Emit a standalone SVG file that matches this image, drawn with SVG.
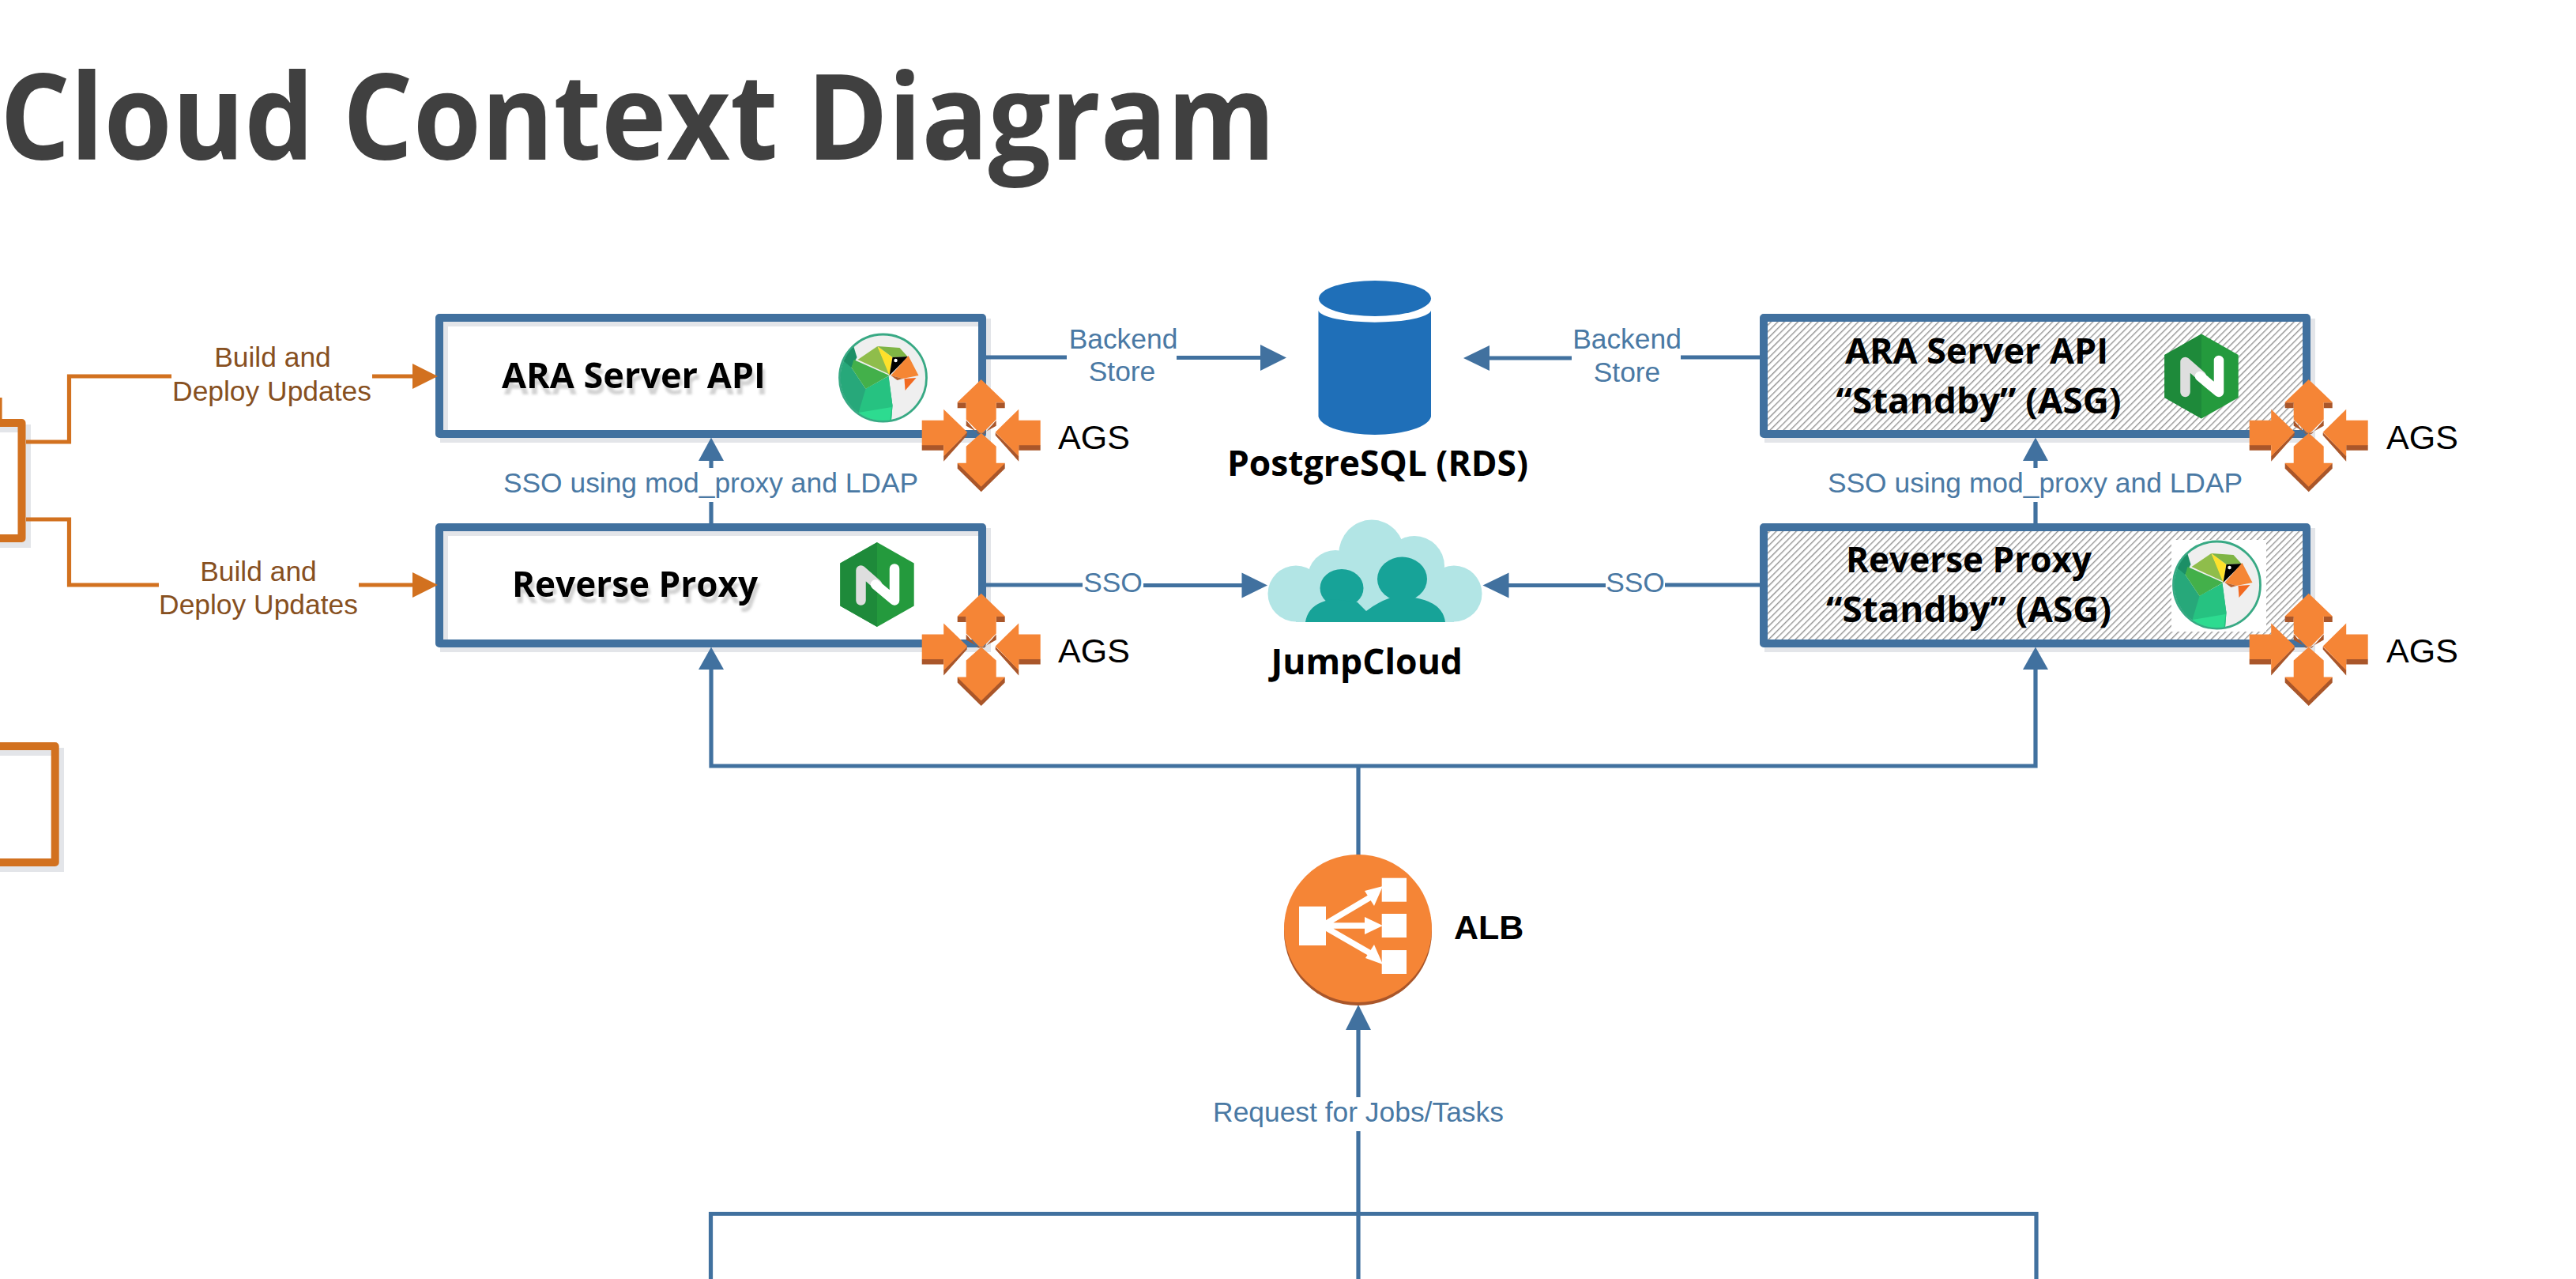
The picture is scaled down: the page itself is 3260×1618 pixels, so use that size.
<svg xmlns="http://www.w3.org/2000/svg" xmlns:xlink="http://www.w3.org/1999/xlink" width="3260" height="1618" viewBox="0 0 3260 1618">
<style>
.box{fill:#fff}
.boxS{fill:none;stroke:#e3e5e9;stroke-width:10}
.boxB{fill:none;stroke:#41719f;stroke-width:10;stroke-linejoin:round}
.boxO{fill:none;stroke:#d2711f;stroke-width:10;stroke-linejoin:round}
.cb{fill:none;stroke:#41719f;stroke-width:5.200}
.co{fill:none;stroke:#d2711f;stroke-width:5.200}
.ab{fill:#41719f}
.ao{fill:#d2711f}
text{font-family:"Liberation Sans",Arial,sans-serif}
.lb{font-size:35.4px;fill:#4a79a4;text-anchor:middle}
.lo{font-size:35.4px;fill:#87501f;text-anchor:middle}
.ags{font-size:43px;fill:#000}
.h{font-family:"Open Sans","Liberation Sans",sans-serif;font-weight:700;font-size:44px;fill:#000}
.sh{filter:url(#ts)}
.f{fill:#f58536}
.d{fill:#a9562a}
</style>
<defs>
<pattern id="hatch" width="6" height="6" patternUnits="userSpaceOnUse" patternTransform="rotate(45)">
<rect width="6" height="6" fill="#fff"/>
<rect width="1.400" height="6" fill="#949494"/>
</pattern>
<filter id="ts" x="-5%" y="-20%" width="110%" height="160%">
<feDropShadow dx="3" dy="8" stdDeviation="1.500" flood-color="#808080" flood-opacity="0.35"/>
</filter>
<clipPath id="disc"><circle cx="0" cy="0" r="54"/></clipPath>
<g id="parrot">
<circle cx="0" cy="0" r="55" fill="#efefef" stroke="#38a984" stroke-width="2.800"/>
<g clip-path="url(#disc)">
<path d="M-37,-39L-70,-20V60H10L12,35L7,-2L-22,14L-40,-13Z" fill="#27a87a"/>
<path d="M-37,-39L-60,-30L-40,-13L-33,-26Z" fill="#1c8f66"/>
<path d="M-37,-23L8,-3L-22,14L-40,-13Z" fill="#43b04a"/>
<path d="M-7,-40L9,-4L-32,-23Z" fill="#8fbd4b"/>
<path d="M-7,-40L12,-26L8,-3Z" fill="#ffe12b"/>
<path d="M-7,-40L21,-38L31,-27L12,-26Z" fill="#7fb545"/>
<path d="M12,-26L32,-27L8,-3Z" fill="#000"/>
<circle cx="16" cy="-22" r="2.200" fill="#fff"/>
<path d="M32,-28L45,-3L25,1L10,-3Z" fill="#f58634"/>
<path d="M10,-3L25,1L18,3Z" fill="#b9622e"/>
<path d="M27,1L42,0L28,16Z" fill="#f26a21"/>
<path d="M7,-2L12,35L10,60L-31,44L-22,14Z" fill="#26c281"/>
<path d="M-31,44L11,37L8,60H-20Z" fill="#2ddb90"/>
</g>
</g>
<g id="nginx">
<path d="M0,-53.500L46.700,-27V27L0,53.500L-46.700,27V-27Z" fill="#249a3d"/>
<path d="M0,-53.500L-46.700,-27V27L0,53.500Z" fill="#1e8a3a"/>
<path d="M-20.500,20V-18L0,0" fill="none" stroke="#dedede" stroke-width="12.500" stroke-linecap="round" stroke-linejoin="round"/>
<path d="M-2,0L22,20V-20" fill="none" stroke="#fff" stroke-width="12.500" stroke-linecap="round" stroke-linejoin="round"/>
</g>
<g id="ags">
<path class="d" d="M-30,-38.500H-19V-31.500H-30ZM19,-38.500H30V-31.500H19Z"/>
<path class="d" d="M-19,-16L-4,1H-1L-19,-9ZM19,-16L4,1H1L19,-9Z"/>
<path class="f" d="M0,-67.700L30,-39V-38.500H19V-17L2,0H-2L-19,-17V-38.500H-30V-39Z"/>
<path class="d" d="M-30,38.500V45L0,74.500L30,45V38.500Z"/>
<path class="f" d="M0,0L19,17V38H30V38.500L0,68L-30,38.500V38H-19V17Z"/>
<path class="d" d="M-75,15.300H-47.500V22H-75ZM75,15.300H47.500V22H75Z"/>
<path class="d" d="M-47.500,29L-18,-0.500L-18,3L-47.500,36ZM47.500,29L18,-0.500L18,3L47.500,36Z"/>
<path class="f" d="M-75,-16H-47.500V-30L-17.500,-1L-47.500,29.500V15.500H-75Z"/>
<path class="f" d="M75,-16H47.500V-30L18,-1L47.500,29.500V15.500H75Z"/>
</g>
</defs>
<rect width="3260" height="1618" fill="#fff"/>

<text id="title" x="0" y="202" style="font-family:'Open Sans','Liberation Sans',sans-serif;font-weight:700;font-size:150px;fill:#404040" textLength="1614" lengthAdjust="spacingAndGlyphs">Cloud Context Diagram</text>

<g id="builder-top">
<rect class="box" x="-30" y="535" width="57.500" height="146"/>
<rect class="boxS" x="-23" y="542" width="57" height="146"/>
<rect class="boxO" x="-30" y="535" width="57.500" height="146"/>
<path class="co" d="M0,503V530"/>
</g>
<g id="builder-bottom">
<rect class="box" x="-50" y="944" width="119.700" height="147"/>
<rect class="boxS" x="-43" y="951" width="119" height="147"/>
<rect class="boxO" x="-50" y="944" width="119.700" height="147"/>
</g>

<g id="ara-server-api">
<rect class="box" x="556" y="402" width="687" height="147"/>
<rect class="boxS" x="562" y="408" width="687" height="147"/>
<rect class="boxB" x="556" y="402" width="687" height="147"/>
<text class="h sh" x="635" y="491" textLength="334" lengthAdjust="spacingAndGlyphs">ARA Server API</text>
<use xlink:href="#parrot" href="#parrot" x="1117.500" y="478"/>
</g>
<g id="reverse-proxy">
<rect class="box" x="556" y="667" width="687" height="147"/>
<rect class="boxS" x="562" y="673" width="687" height="147"/>
<rect class="boxB" x="556" y="667" width="687" height="147"/>
<text class="h sh" x="648" y="755" textLength="311" lengthAdjust="spacingAndGlyphs">Reverse Proxy</text>
<use xlink:href="#nginx" href="#nginx" x="1110" y="739.500"/>
</g>
<g id="ara-standby">
<rect class="boxS" x="2238" y="408" width="687" height="147"/>
<rect fill="url(#hatch)" x="2232" y="402" width="687" height="147"/>
<rect class="boxB" x="2232" y="402" width="687" height="147"/>
<text class="h" x="2335" y="459.500" textLength="333" lengthAdjust="spacingAndGlyphs">ARA Server API</text>
<text class="h" x="2323.500" y="522.500" textLength="361" lengthAdjust="spacingAndGlyphs">“Standby” (ASG)</text>
<use xlink:href="#nginx" href="#nginx" x="2786" y="476"/>
</g>
<g id="proxy-standby">
<rect class="boxS" x="2238" y="673" width="687" height="147"/>
<rect fill="url(#hatch)" x="2232" y="667" width="687" height="147"/>
<rect class="boxB" x="2232" y="667" width="687" height="147"/>
<text class="h" x="2336" y="723.500" textLength="311" lengthAdjust="spacingAndGlyphs">Reverse Proxy</text>
<text class="h" x="2311" y="786.500" textLength="361" lengthAdjust="spacingAndGlyphs">“Standby” (ASG)</text>
<rect x="2748" y="683" width="120" height="116" fill="#fff"/>
<use xlink:href="#parrot" href="#parrot" x="2805.500" y="740"/>
</g>

<g id="connectors">
<path class="co" d="M33,559H87.500V476H217"/>
<path class="co" d="M471,476H524"/>
<path class="ao" d="M522,460L554,476L522,492Z"/>
<path class="co" d="M33,657H87.500V740H201"/>
<path class="co" d="M454,740H524"/>
<path class="ao" d="M522,724L554,740L522,756Z"/>
<path class="cb" d="M1246,452H1350M1489,452.500H1597"/>
<path class="ab" d="M1595,436L1628,452.500L1595,469Z"/>
<path class="cb" d="M2230,452H2127M1989,453H1883"/>
<path class="ab" d="M1885,437L1852,453L1885,469Z"/>
<path class="cb" d="M1246,740H1370M1447,740.500H1574"/>
<path class="ab" d="M1571.500,724.500L1604,740.500L1571.500,756.500Z"/>
<path class="cb" d="M2230,740H2107M2032,740.500H1907"/>
<path class="ab" d="M1909.500,724.500L1876.500,740.500L1909.500,756.500Z"/>
<path class="cb" d="M900,664V635M900,592V580"/>
<path class="ab" d="M884,583L900,553.500L916,583Z"/>
<path class="cb" d="M2576,664V635M2576,592V580"/>
<path class="ab" d="M2560,583L2576,553.500L2592,583Z"/>
<path class="cb" d="M900,845V969H2576V845"/>
<path class="ab" d="M884,847L900,818.500L916,847Z"/>
<path class="ab" d="M2560,847L2576,818.500L2592,847Z"/>
<path class="cb" d="M1719,969V1084"/>
<path class="cb" d="M1719,1300V1388M1719,1431V1618"/>
<path class="ab" d="M1703,1303L1719,1271L1735,1303Z"/>
<path class="cb" d="M899.500,1618V1535.500H2577V1618"/>
</g>

<g id="ags-1"><use xlink:href="#ags" href="#ags" x="1241.700" y="547.700"/><text class="ags" x="1339" y="567.500">AGS</text></g>
<g id="ags-2"><use xlink:href="#ags" href="#ags" x="1241.700" y="818.400"/><text class="ags" x="1339" y="838">AGS</text></g>
<g id="ags-3"><use xlink:href="#ags" href="#ags" x="2921.700" y="547.700"/><text class="ags" x="3020" y="567.500">AGS</text></g>
<g id="ags-4"><use xlink:href="#ags" href="#ags" x="2921.700" y="818.400"/><text class="ags" x="3020" y="838">AGS</text></g>

<g id="postgresql">
<ellipse cx="1740" cy="377.500" rx="71" ry="22.500" fill="#1f6fb8"/>
<path d="M1668.500,393A71.500,16 0 0 0 1811,393V527A71.500,25 0 0 1 1668.500,527Z" fill="#1f6fb8"/>
<text class="h" x="1553" y="602" textLength="381" lengthAdjust="spacingAndGlyphs">PostgreSQL (RDS)</text>
</g>
<g id="jumpcloud">
<g fill="#b2e5e5">
<circle cx="1640" cy="751" r="35.500"/><circle cx="1840" cy="751" r="35.500"/>
<circle cx="1690" cy="731" r="35"/><circle cx="1790" cy="716" r="38"/>
<ellipse cx="1736" cy="702" rx="42" ry="44.500"/>
<rect x="1640" y="720" width="200" height="67"/>
</g>
<g fill="#17a398">
<ellipse cx="1774.500" cy="732.500" rx="31.500" ry="28"/>
<ellipse cx="1698" cy="744" rx="27.500" ry="24"/>
<path d="M1652,787Q1656,762 1688,758L1718,762L1729,773Q1743,762 1760,756L1790,756Q1826,762 1829,787Z"/>
</g>
<text class="h" x="1608.500" y="853" textLength="242.500" lengthAdjust="spacingAndGlyphs">JumpCloud</text>
</g>
<g id="alb">
<circle cx="1718.500" cy="1178.500" r="93.500" fill="#a9562a"/>
<circle cx="1718.500" cy="1174.500" r="93.500" fill="#f58536"/>
<g fill="#fff">
<rect x="1644" y="1146.700" width="34" height="49.300"/>
<rect x="1748.700" y="1110.700" width="31.300" height="30"/>
<rect x="1748.700" y="1156" width="31.300" height="30"/>
<rect x="1748.700" y="1202" width="31.300" height="30"/>
<path d="M1750,1121L1727,1127L1739,1146Z"/>
<path d="M1750,1171L1727,1160V1182Z"/>
<path d="M1750,1220L1728,1212L1739,1195Z"/>
</g>
<path d="M1677,1169L1736,1134M1677,1171H1735M1677,1173L1736,1207" fill="none" stroke="#fff" stroke-width="7.500"/>
<text x="1840" y="1187.500" style="font-size:43px;font-weight:700;fill:#000">ALB</text>
</g>

<g id="labels">
<text class="lo" x="345" y="464">Build and</text>
<text class="lo" x="344" y="507">Deploy Updates</text>
<text class="lo" x="327" y="735">Build and</text>
<text class="lo" x="327" y="777">Deploy Updates</text>
<text class="lb" x="899.500" y="623">SSO using mod_proxy and LDAP</text>
<text class="lb" x="2575.500" y="623">SSO using mod_proxy and LDAP</text>
<text class="lb" x="1421.500" y="441">Backend</text>
<text class="lb" x="1420" y="482">Store</text>
<text class="lb" x="2059" y="441">Backend</text>
<text class="lb" x="2059" y="482.500">Store</text>
<text class="lb" x="1408.500" y="749">SSO</text>
<text class="lb" x="2069.500" y="749">SSO</text>
<text class="lb" x="1719" y="1419">Request for Jobs/Tasks</text>
</g>
</svg>
